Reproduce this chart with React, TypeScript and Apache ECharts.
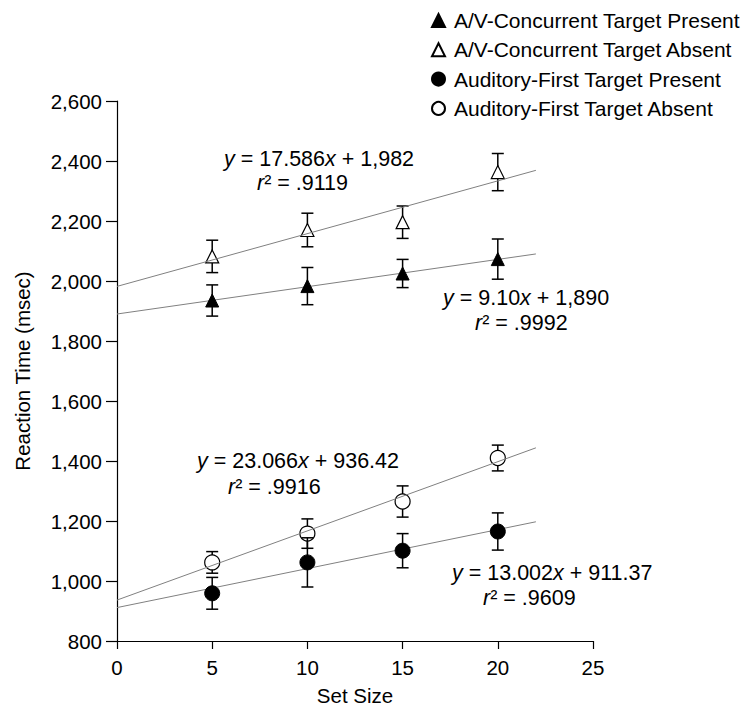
import React, { useEffect, useRef } from "react";
import * as echarts from "echarts";

const setSizes = [5, 10, 15, 20];
const seriesNames = [
  "A/V-Concurrent Target Present",
  "A/V-Concurrent Target Absent",
  "Auditory-First Target Present",
  "Auditory-First Target Absent",
];
const avPresent = [1935, 1983, 2025, 2073];
const avPresentErr = [52, 62, 47, 67];
const avAbsent = [2082, 2170, 2196, 2363];
const avAbsentErr = [54, 56, 54, 62];
const afPresent = [959, 1062, 1101, 1165];
const afPresentErr = [53, 82, 57, 62];
const afAbsent = [1062, 1158, 1265, 1410];
const afAbsentErr = [36, 49, 52, 43];

const fitSlopes = [9.1, 17.586, 13.002, 23.066];
const fitIntercepts = [1890, 1982, 911.37, 936.42];
const fitRange = [0, 22];

const xTicks = [0, 25, 5];
const yTicks = [800, 2600, 200];

const annotationLines = [
  ["{i|y} = 17.586{i|x} + 1,982", "{i|r}² = .9119"],
  ["{i|y} = 9.10{i|x} + 1,890", "{i|r}² = .9992"],
  ["{i|y} = 23.066{i|x} + 936.42", "{i|r}² = .9916"],
  ["{i|y} = 13.002{i|x} + 911.37", "{i|r}² = .9609"],
];

const FONT = "'Liberation Sans', Arial, Helvetica, sans-serif";
const FS = 20.5;
const FS_LEGEND = 21;
const FS_ANN = 21.5;

export default function App() {
  const ref = useRef<HTMLDivElement>(null);
  useEffect(() => {
    if (!ref.current) return;
    const chart = echarts.init(ref.current, null, { renderer: "svg" });

    const means = [avPresent, avAbsent, afPresent, afAbsent];
    const errs = [avPresentErr, avAbsentErr, afPresentErr, afAbsentErr];
    const symbols = ["triangle", "triangle", "circle", "circle"];
    const sizes = [13, 13, 15, 15];
    const filled = [true, false, true, false];

    const errSeries = means.map((m, si) => ({
      type: "custom",
      name: "err" + si,
      z: filled[si] ? 4 : 2,
      silent: true,
      encode: { x: 0, y: [1, 2] },
      data: setSizes.map((x, i) => [x, m[i] - errs[si][i], m[i] + errs[si][i]]),
      renderItem: (params: any, api: any) => {
        const x = api.value(0);
        const pLo = api.coord([x, api.value(1)]);
        const pHi = api.coord([x, api.value(2)]);
        const hw = 6;
        const st = { stroke: "#000", lineWidth: 1.5 };
        return {
          type: "group",
          children: [
            { type: "line", shape: { x1: pHi[0], y1: pHi[1], x2: pLo[0], y2: pLo[1] }, style: st },
            { type: "line", shape: { x1: pHi[0] - hw, y1: pHi[1], x2: pHi[0] + hw, y2: pHi[1] }, style: st },
            { type: "line", shape: { x1: pLo[0] - hw, y1: pLo[1], x2: pLo[0] + hw, y2: pLo[1] }, style: st },
          ],
        };
      },
    }));

    const pointSeries = means.map((m, si) => ({
      type: "scatter",
      name: seriesNames[si],
      z: filled[si] ? 5 : 3,
      symbol: symbols[si],
      symbolSize: sizes[si],
      itemStyle: filled[si]
        ? { color: "#000", borderColor: "#000", borderWidth: 1, opacity: 1 }
        : { color: "#fff", borderColor: "#000", borderWidth: 1.2, opacity: 1 },
      data: setSizes.map((x, i) => [x, m[i]]),
    }));

    const fitSeries = fitSlopes.map((s, i) => ({
      type: "line",
      name: "fit" + i,
      z: 4,
      silent: true,
      symbol: "none",
      lineStyle: { color: "#808080", width: 1 },
      data: fitRange.map((x) => [x, fitIntercepts[i] + s * x]),
    }));

    const annPos = [
      [[224, 159], [257, 183]],
      [[443, 298], [475, 323]],
      [[197, 461], [228, 487]],
      [[452, 573], [483, 598]],
    ];
    const graphics: any[] = [];
    annotationLines.forEach((lines, ai) => {
      lines.forEach((t, li) => {
        graphics.push({
          type: "text",
          x: annPos[ai][li][0],
          y: annPos[ai][li][1],
          style: {
            text: t,
            fill: "#000",
            fontSize: FS_ANN,
            fontFamily: FONT,
            textAlign: "left",
            textVerticalAlign: "middle",
            verticalAlign: "middle",
            rich: {
              i: { fontStyle: "italic", fontSize: FS_ANN, fontFamily: FONT, fill: "#000" },
            },
          },
        });
      });
    });

    const option: any = {
      animation: false,
      backgroundColor: "#fff",
      grid: { left: 117, top: 101, width: 476, height: 540, containLabel: false },
      legend: {
        data: seriesNames,
        orient: "vertical",
        left: 431,
        top: 10,
        padding: 0,
        itemWidth: 13,
        itemHeight: 13,
        itemGap: 8.3,
        textStyle: {
          color: "#000",
          fontSize: FS_LEGEND,
          fontFamily: FONT,
          lineHeight: 20,
          padding: [0, 0, 0, 4],
        },
        selectedMode: false,
      },
      xAxis: {
        type: "value",
        min: xTicks[0],
        max: xTicks[1],
        interval: xTicks[2],
        name: "Set Size",
        nameLocation: "middle",
        nameGap: 44,
        nameTextStyle: { color: "#000", fontSize: FS, fontFamily: FONT },
        splitLine: { show: false },
        axisLine: { show: true, onZero: false, lineStyle: { color: "#000", width: 1.2 } },
        axisTick: { show: true, length: 8, lineStyle: { color: "#000", width: 1.2 } },
        axisLabel: { color: "#000", fontSize: FS, fontFamily: FONT, margin: 16 },
      },
      yAxis: {
        type: "value",
        min: yTicks[0],
        max: yTicks[1],
        interval: yTicks[2],
        name: "Reaction Time (msec)",
        nameLocation: "middle",
        nameGap: 84,
        nameTextStyle: { color: "#000", fontSize: FS, fontFamily: FONT },
        splitLine: { show: false },
        axisLine: { show: true, onZero: false, lineStyle: { color: "#000", width: 1.2 } },
        axisTick: { show: true, length: 11, lineStyle: { color: "#000", width: 1.2 } },
        axisLabel: {
          color: "#000",
          fontSize: FS,
          fontFamily: FONT,
          margin: 15,
          formatter: (v: number) => v.toLocaleString("en-US"),
        },
      },
      graphic: graphics,
      series: [...fitSeries, ...errSeries, ...pointSeries],
    };
    chart.setOption(option);
    return () => chart.dispose();
  }, []);
  return <div ref={ref} style={{ width: 749, height: 711, position: "absolute", left: 0, top: 0 }} />;
}
